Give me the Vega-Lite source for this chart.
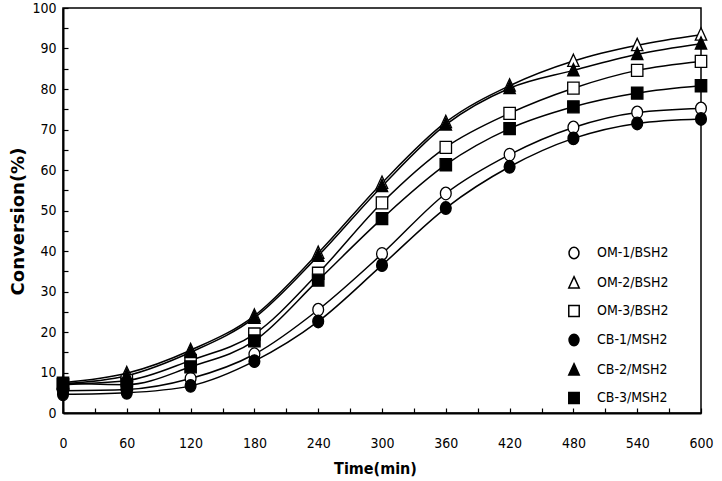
{
  "$schema": "https://vega.github.io/schema/vega-lite/v6.json",
  "width": 638,
  "height": 405,
  "autosize": {"type": "none"},
  "padding": {"left": 63, "top": 8, "right": 21, "bottom": 68},
  "background": "white",
  "config": {
    "view": {"stroke": "black", "strokeWidth": 1.5},
    "axis": {
      "grid": false,
      "domainColor": "black",
      "domainWidth": 2,
      "ticks": true,
      "tickColor": "black",
      "tickWidth": 1.2,
      "tickSize": -5,
      "labelFont": "DejaVu Sans Condensed, sans-serif",
      "labelFontSize": 14,
      "labelColor": "black",
      "titleColor": "black"
    },
    "legend": {
      "labelFont": "DejaVu Sans Condensed, sans-serif",
      "labelFontSize": 14,
      "labelColor": "black"
    }
  },
  "data": {
    "values": [
      {"t": 0, "s": "OM-1/BSH2", "v": 5.5}, {"t": 60, "s": "OM-1/BSH2", "v": 5.8}, {"t": 120, "s": "OM-1/BSH2", "v": 8.5}, {"t": 180, "s": "OM-1/BSH2", "v": 14.5}, {"t": 240, "s": "OM-1/BSH2", "v": 25.5}, {"t": 300, "s": "OM-1/BSH2", "v": 39.3}, {"t": 360, "s": "OM-1/BSH2", "v": 54.2}, {"t": 420, "s": "OM-1/BSH2", "v": 63.8}, {"t": 480, "s": "OM-1/BSH2", "v": 70.5}, {"t": 540, "s": "OM-1/BSH2", "v": 74.2}, {"t": 600, "s": "OM-1/BSH2", "v": 75.2},
      {"t": 0, "s": "OM-2/BSH2", "v": 7.5}, {"t": 60, "s": "OM-2/BSH2", "v": 9.8}, {"t": 120, "s": "OM-2/BSH2", "v": 15.5}, {"t": 180, "s": "OM-2/BSH2", "v": 24}, {"t": 240, "s": "OM-2/BSH2", "v": 39.5}, {"t": 300, "s": "OM-2/BSH2", "v": 56.8}, {"t": 360, "s": "OM-2/BSH2", "v": 71.8}, {"t": 420, "s": "OM-2/BSH2", "v": 80.8}, {"t": 480, "s": "OM-2/BSH2", "v": 86.9}, {"t": 540, "s": "OM-2/BSH2", "v": 90.8}, {"t": 600, "s": "OM-2/BSH2", "v": 93.4},
      {"t": 0, "s": "OM-3/BSH2", "v": 7}, {"t": 60, "s": "OM-3/BSH2", "v": 8}, {"t": 120, "s": "OM-3/BSH2", "v": 13}, {"t": 180, "s": "OM-3/BSH2", "v": 19.5}, {"t": 240, "s": "OM-3/BSH2", "v": 34.5}, {"t": 300, "s": "OM-3/BSH2", "v": 51.9}, {"t": 360, "s": "OM-3/BSH2", "v": 65.6}, {"t": 420, "s": "OM-3/BSH2", "v": 74}, {"t": 480, "s": "OM-3/BSH2", "v": 80.2}, {"t": 540, "s": "OM-3/BSH2", "v": 84.6}, {"t": 600, "s": "OM-3/BSH2", "v": 86.8},
      {"t": 0, "s": "CB-1/MSH2", "v": 4.6}, {"t": 60, "s": "CB-1/MSH2", "v": 5}, {"t": 120, "s": "CB-1/MSH2", "v": 6.7}, {"t": 180, "s": "CB-1/MSH2", "v": 12.8}, {"t": 240, "s": "CB-1/MSH2", "v": 22.6}, {"t": 300, "s": "CB-1/MSH2", "v": 36.5}, {"t": 360, "s": "CB-1/MSH2", "v": 50.6}, {"t": 420, "s": "CB-1/MSH2", "v": 60.8}, {"t": 480, "s": "CB-1/MSH2", "v": 67.8}, {"t": 540, "s": "CB-1/MSH2", "v": 71.5}, {"t": 600, "s": "CB-1/MSH2", "v": 72.6},
      {"t": 0, "s": "CB-2/MSH2", "v": 7.2}, {"t": 60, "s": "CB-2/MSH2", "v": 9.2}, {"t": 120, "s": "CB-2/MSH2", "v": 15}, {"t": 180, "s": "CB-2/MSH2", "v": 23.5}, {"t": 240, "s": "CB-2/MSH2", "v": 38.8}, {"t": 300, "s": "CB-2/MSH2", "v": 56}, {"t": 360, "s": "CB-2/MSH2", "v": 71.2}, {"t": 420, "s": "CB-2/MSH2", "v": 80.2}, {"t": 480, "s": "CB-2/MSH2", "v": 84.6}, {"t": 540, "s": "CB-2/MSH2", "v": 88.6}, {"t": 600, "s": "CB-2/MSH2", "v": 91.2},
      {"t": 0, "s": "CB-3/MSH2", "v": 7.4}, {"t": 60, "s": "CB-3/MSH2", "v": 7}, {"t": 120, "s": "CB-3/MSH2", "v": 11.4}, {"t": 180, "s": "CB-3/MSH2", "v": 17.8}, {"t": 240, "s": "CB-3/MSH2", "v": 32.8}, {"t": 300, "s": "CB-3/MSH2", "v": 48}, {"t": 360, "s": "CB-3/MSH2", "v": 61.3}, {"t": 420, "s": "CB-3/MSH2", "v": 70.2}, {"t": 480, "s": "CB-3/MSH2", "v": 75.6}, {"t": 540, "s": "CB-3/MSH2", "v": 79}, {"t": 600, "s": "CB-3/MSH2", "v": 80.8}
    ]
  },
  "encoding": {
    "x": {
      "field": "t", "type": "quantitative",
      "scale": {"domain": [0, 600], "nice": false},
      "axis": {
        "values": [0, 30, 60, 90, 120, 150, 180, 210, 240, 270, 300, 330, 360, 390, 420, 450, 480, 510, 540, 570, 600],
        "labelExpr": "datum.value % 60 == 0 ? datum.label : ''",
        "labelPadding": 28,
        "labelFlush": false,
        "title": "Time(min)",
        "titleFont": "DejaVu Sans Condensed, sans-serif",
        "titleFontSize": 16,
        "titleFontWeight": "bold",
        "titleX": 312,
        "titleY": 55,
        "titleBaseline": "middle"
      }
    },
    "y": {
      "field": "v", "type": "quantitative",
      "scale": {"domain": [0, 100], "nice": false},
      "axis": {
        "values": [0, 5, 10, 15, 20, 25, 30, 35, 40, 45, 50, 55, 60, 65, 70, 75, 80, 85, 90, 95, 100],
        "labelExpr": "datum.value % 10 == 0 ? datum.label : ''",
        "labelPadding": 12,
        "labelFlush": false,
        "title": "Conversion(%)",
        "titleFont": "DejaVu Sans",
        "titleFontSize": 18,
        "titleFontWeight": "bold",
        "titleAngle": -90,
        "titleX": -45,
        "titleY": 213,
        "titleAlign": "center",
        "titleBaseline": "middle"
      }
    }
  },
  "layer": [
    {
      "mark": {"type": "line", "interpolate": "monotone", "stroke": "black", "strokeWidth": 1.5},
      "encoding": {"detail": {"field": "s"}}
    },
    {
      "mark": {"type": "point", "filled": false, "stroke": "black", "strokeWidth": 1.3, "size": 144, "opacity": 1},
      "encoding": {
        "shape": {
          "field": "s", "type": "nominal",
          "scale": {
            "domain": ["OM-1/BSH2", "OM-2/BSH2", "OM-3/BSH2", "CB-1/MSH2", "CB-2/MSH2", "CB-3/MSH2"],
            "range": [
              "M0.9,0A0.9,1.05 0 1,1 -0.9,0A0.9,1.05 0 1,1 0.9,0Z",
              "M0,-1.15L0.95,0.9L-0.95,0.9Z",
              "M-0.95,-1L0.95,-1L0.95,1L-0.95,1Z",
              "M0.9,0A0.9,1.05 0 1,1 -0.9,0A0.9,1.05 0 1,1 0.9,0Z",
              "M0,-1.15L0.95,0.9L-0.95,0.9Z",
              "M-0.95,-1L0.95,-1L0.95,1L-0.95,1Z"
            ]
          },
          "legend": {
            "title": null,
            "orient": "none",
            "legendX": 504,
            "legendY": 238,
            "padding": 0,
            "symbolSize": 121,
            "labelOffset": 16,
            "rowPadding": 11,
            "encode": {
              "symbols": {
                "stroke": {"value": "black"},
                "strokeWidth": {"value": 1.3},
                "opacity": {"value": 1}
              }
            }
          }
        },
        "fill": {
          "field": "s", "type": "nominal",
          "scale": {
            "domain": ["OM-1/BSH2", "OM-2/BSH2", "OM-3/BSH2", "CB-1/MSH2", "CB-2/MSH2", "CB-3/MSH2"],
            "range": ["white", "white", "white", "black", "black", "black"]
          },
          "legend": {
            "title": null,
            "orient": "none",
            "legendX": 504,
            "legendY": 238,
            "padding": 0,
            "symbolSize": 121,
            "labelOffset": 16,
            "rowPadding": 11,
            "encode": {
              "symbols": {
                "stroke": {"value": "black"},
                "strokeWidth": {"value": 1.3},
                "opacity": {"value": 1}
              }
            }
          }
        }
      }
    }
  ]
}
